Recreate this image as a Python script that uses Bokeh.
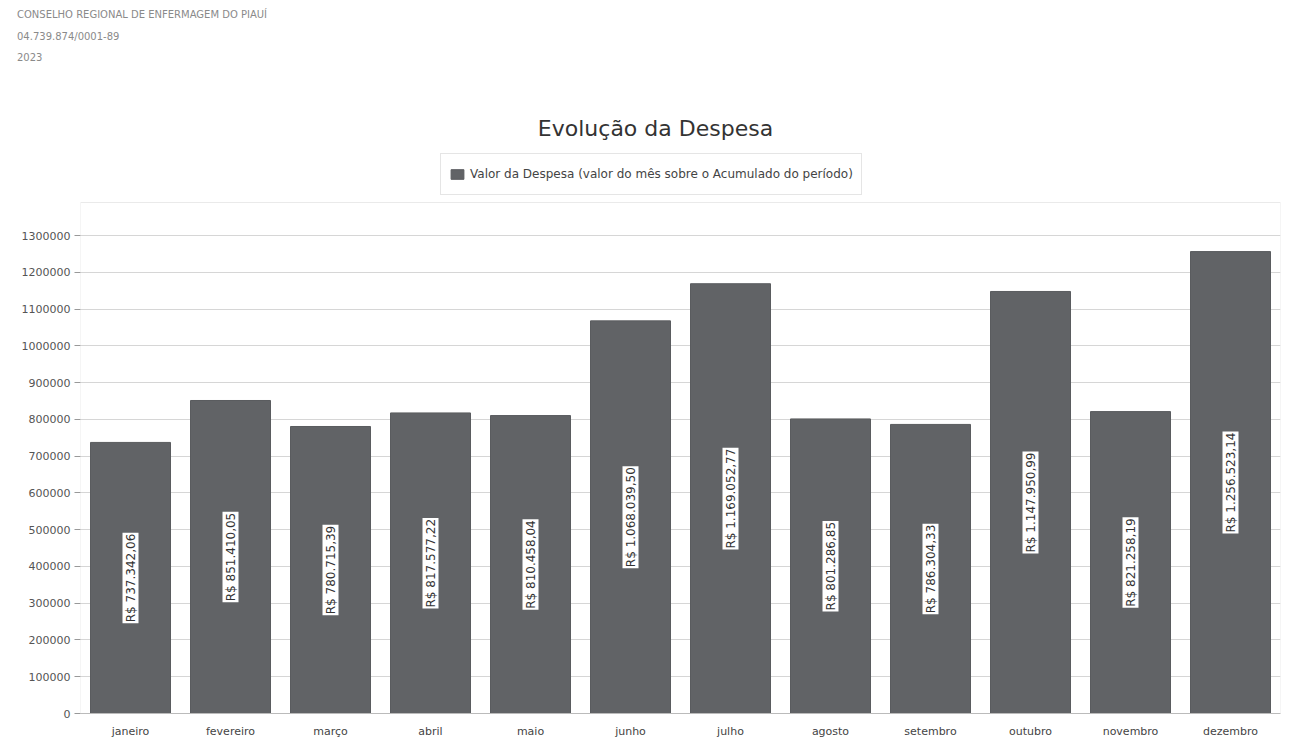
from bokeh.plotting import figure
from bokeh.layouts import column
from bokeh.models import (ColumnDataSource, Range1d, Legend, LegendItem, Div,
                          FixedTicker, BasicTickFormatter, BoxAnnotation)
from bokeh.core.properties import value
from bokeh.embed import file_html
from bokeh.resources import INLINE
import math

# ---- data ----
meses = ["janeiro", "fevereiro", "março", "abril", "maio", "junho",
         "julho", "agosto", "setembro", "outubro", "novembro", "dezembro"]
valores = [737342.06, 851410.05, 780715.39, 817577.22, 810458.04, 1068039.50,
           1169052.77, 801286.85, 786304.33, 1147950.99, 821258.19, 1256523.14]
ticks_y = [0, 100000, 200000, 300000, 400000, 500000, 600000, 700000,
           800000, 900000, 1000000, 1100000, 1200000, 1300000]

cabecalho = ["CONSELHO REGIONAL DE ENFERMAGEM DO PIAUÍ", "04.739.874/0001-89", "2023"]
titulo = "Evolução da Despesa"
serie = "Valor da Despesa (valor do mês sobre o Acumulado do período)"

Y_MAX = 1390000          # top of the chart box
FRAME_H = 565            # frame incl. legend strip
BOX_H = 511              # chart box height in px


def brl(v):
    s = f"{v:,.2f}".replace(",", "X").replace(".", ",").replace("X", ".")
    return "R$ " + s


src = ColumnDataSource(dict(
    mes=meses,
    valor=valores,
    rotulo=[brl(v) for v in valores],
    meio=[v / 2 for v in valores],
))

FONT = "DejaVu Sans"
W = 1285

header = Div(
    text="<div style=\"font-family:'DejaVu Sans';font-size:10px;color:#8a8a8a;"
         "line-height:21.5px;padding-left:12px;margin-top:-1px;\">"
         + "<br>".join(cabecalho) + "</div>",
    width=W, height=80)

title_div = Div(
    text="<div style=\"font-family:'DejaVu Sans';font-size:22px;color:#333333;"
         "width:1281px;text-align:center;margin-left:10px;margin-top:18px;\">"
         + titulo + "</div>",
    width=W, height=46)

p = figure(x_range=meses, y_range=Range1d(0, Y_MAX * FRAME_H / BOX_H),
           width=W, height=595, output_backend="svg", toolbar_location=None,
           min_border_left=80, min_border_right=5, min_border_bottom=28,
           min_border_top=2,
           background_fill_color="white", border_fill_color="white")

bars = p.vbar(x="mes", top="valor", width=0.8, source=src,
              fill_color="#616366", line_color="#5a5c5f")

p.text(x="mes", y="meio", text="rotulo", source=src, angle=math.pi / 2,
       text_align="center", text_baseline="middle", text_font=value(FONT),
       text_font_size="12px", text_color="#333333",
       background_fill_color="white", padding=1)

# chart box (below the legend strip)
p.add_layout(BoxAnnotation(bottom=0, top=Y_MAX, fill_color=None,
                           line_color="#bbbbbb", line_width=1, level="overlay"))

# axes
p.yaxis.ticker = FixedTicker(ticks=ticks_y)
p.yaxis.formatter = BasicTickFormatter(use_scientific=False)
p.yaxis.major_label_text_font = FONT
p.yaxis.major_label_text_font_size = "11px"
p.yaxis.major_label_text_color = "#555555"
p.yaxis.major_label_standoff = 4
p.yaxis.axis_line_color = None
p.yaxis.major_tick_line_color = "#999999"
p.yaxis.major_tick_out = 6
p.yaxis.major_tick_in = 0
p.yaxis.minor_tick_line_color = None

p.xaxis.major_label_text_font = FONT
p.xaxis.major_label_text_font_size = "11px"
p.xaxis.major_label_text_color = "#444444"
p.xaxis.axis_line_color = "#bbbbbb"
p.xaxis.major_tick_line_color = None
p.xaxis.minor_tick_line_color = None
p.xaxis.major_label_standoff = 5

p.xgrid.grid_line_color = None
p.ygrid.grid_line_color = "#d6d6d6"
p.outline_line_color = None
p.x_range.range_padding = 0

legend = Legend(items=[LegendItem(label=serie, renderers=[bars])],
                location=(360, 518), orientation="horizontal",
                label_text_font=FONT, label_text_font_size="12px",
                label_text_color="#444444", label_height=24,
                border_line_color="#cccccc", padding=8,
                glyph_width=16, glyph_height=12)
p.add_layout(legend, "center")

layout = column(header, title_div, p, spacing=0)
open("out.html", "w").write(file_html(layout, INLINE))
